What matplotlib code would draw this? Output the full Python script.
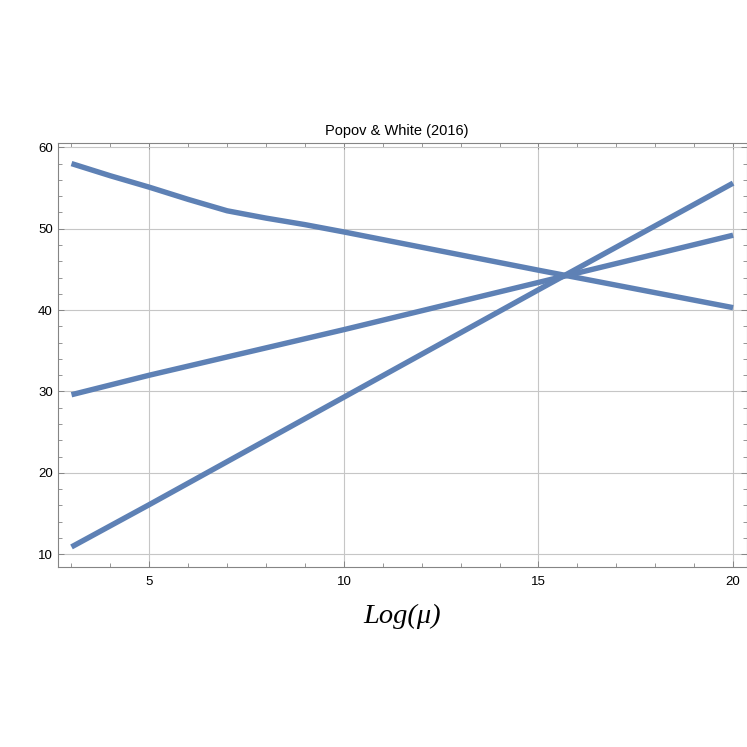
import matplotlib
matplotlib.use("Agg")
import matplotlib.pyplot as plt
from matplotlib.ticker import MultipleLocator

# data
x_dec = [3, 4, 5, 6, 7, 8, 9, 10, 15, 20]
y_dec = [58.0, 56.5, 55.1, 53.6, 52.2, 51.3, 50.5, 49.6, 44.9, 40.3]

x_mid = [3, 5, 10, 15, 20]
y_mid = [29.6, 32.0, 37.6, 43.4, 49.2]

x_steep = [3, 5, 10, 15, 20]
y_steep = [10.9, 16.1, 29.3, 42.5, 55.6]

x_ticks = [5, 10, 15, 20]
y_ticks = [10, 20, 30, 40, 50, 60]

line_color = '#5e81b5'
frame_color = '#858585'
grid_color = '#c6c6c6'

fig = plt.figure(figsize=(7.47, 7.47), dpi=100)
ax = fig.add_axes([0.078, 0.2406, 0.9216, 0.5684])

for xs, ys in [(x_dec, y_dec), (x_mid, y_mid), (x_steep, y_steep)]:
    ax.plot(xs, ys, color=line_color, linewidth=3.9, solid_capstyle='butt', solid_joinstyle='round')

ax.set_xlim(2.66, 20.35)
ax.set_ylim(8.4, 60.57)

ax.set_xticks(x_ticks)
ax.set_yticks(y_ticks)
ax.xaxis.set_minor_locator(MultipleLocator(1))
ax.yaxis.set_minor_locator(MultipleLocator(2))

ax.grid(True, which='major', color=grid_color, linewidth=0.8)
ax.set_axisbelow(True)

for spine in ax.spines.values():
    spine.set_color(frame_color)
    spine.set_linewidth(0.8)

ax.tick_params(which='both', direction='in', top=True, right=True, color=frame_color,
               labelsize=9.5, labelcolor='black')
ax.tick_params(which='major', length=4.5, width=0.7)
ax.tick_params(which='minor', length=2.6, width=0.6)
ax.tick_params(axis='x', pad=6)
ax.tick_params(axis='y', pad=4)
for lbl in ax.get_xticklabels() + ax.get_yticklabels():
    lbl.set_fontfamily('Liberation Sans')

ax.set_title('Popov & White (2016)', fontsize=10.5, fontfamily='Liberation Sans', pad=5.5, x=0.491)

fig.text(401.7 / 747, 1 - 623 / 747, 'Log(μ)', fontsize=20.5, fontfamily='Liberation Serif',
         style='italic', ha='center', va='baseline')

fig.savefig('out.png', dpi=100)
